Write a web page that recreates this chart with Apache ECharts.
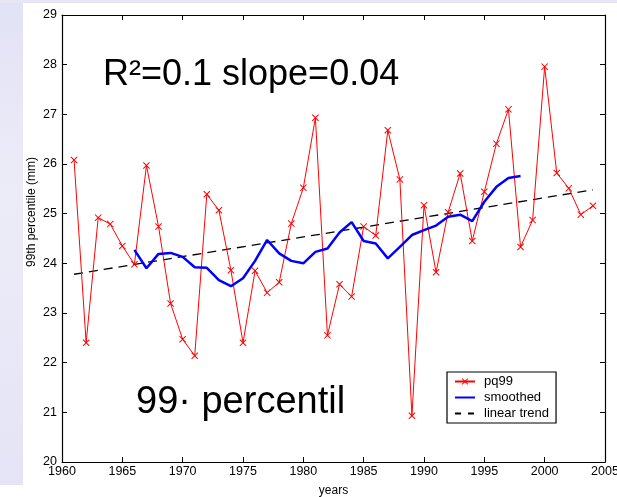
<!DOCTYPE html>
<html>
<head>
<meta charset="utf-8">
<script src="https://cdn.jsdelivr.net/npm/echarts@6/dist/echarts.min.js"></script>
<style>
html,body{margin:0;padding:0;background:#ffffff;}
#bgl{position:absolute;left:0;top:0;width:23px;height:485px;background:linear-gradient(180deg,#e2e2f6,#ececf8 40%,#e4e4f6);}
#bgt{position:absolute;left:0;top:0;width:617px;height:3px;background:#e6e6f7;}
#chart{position:absolute;left:0;top:0;width:617px;height:497px;}
</style>
</head>
<body>
<div id="bgl"></div><div id="bgt"></div>
<div id="chart"></div>
<script>
// ---- data ----
const years = [1961,1962,1963,1964,1965,1966,1967,1968,1969,1970,1971,1972,1973,1974,1975,1976,1977,1978,1979,1980,1981,1982,1983,1984,1985,1986,1987,1988,1989,1990,1991,1992,1993,1994,1995,1996,1997,1998,1999,2000,2001,2002,2003,2004];
const pq99 = [26.08,22.40,24.92,24.79,24.35,23.98,25.97,24.74,23.19,22.47,22.14,25.39,25.07,23.86,22.40,23.85,23.41,23.62,24.80,25.52,26.93,22.55,23.58,23.33,24.74,24.56,26.68,25.69,20.93,25.17,23.82,25.03,25.81,24.45,25.44,26.41,27.10,24.33,24.87,27.96,25.82,25.51,24.98,25.16];
const smoothYears = [1966,1967,1968,1969,1970,1971,1972,1973,1974,1975,1976,1977,1978,1979,1980,1981,1982,1983,1984,1985,1986,1987,1988,1989,1990,1991,1992,1993,1994,1995,1996,1997,1998];
const smoothed = [24.27,23.90,24.19,24.21,24.13,23.92,23.91,23.66,23.54,23.70,24.05,24.47,24.20,24.05,24.00,24.23,24.30,24.62,24.83,24.45,24.40,24.10,24.33,24.57,24.67,24.76,24.94,24.98,24.85,25.24,25.54,25.72,25.76];
const trendYears = [1961,2004];
const trendValues = [23.78,25.48];
const seriesNames = ['pq99','smoothed','linear trend'];
const xTitle = 'years';
const yTitle = '99th percentile (mm)';
const annot1 = 'R\u00B2=0.1 slope=0.04';
const annot2 = '99\u00B7 percentil';

const zip = (a,b) => a.map((v,i)=>[v,b[i]]);
const FONT = 'Liberation Sans, Arial, Helvetica, sans-serif';
const xSym = 'path://M0,1L1,0L5,4L9,0L10,1L6,5L10,9L9,10L5,6L1,10L0,9L4,5Z';

const chart = echarts.init(document.getElementById('chart'), null, {renderer:'canvas'});
const axisCommon = {
  axisLine:{show:true,lineStyle:{color:'#000',width:1.2}},
  axisTick:{show:true,inside:true,length:5,lineStyle:{color:'#000',width:1}},
  splitLine:{show:false}
};
chart.setOption({
  backgroundColor:'transparent',
  animation:false,
  grid:{left:62,right:12,top:15,bottom:35,containLabel:false,outerBoundsMode:'none'},
  xAxis:[
    Object.assign({type:'value',min:1960,max:2005,interval:5,position:'bottom',
      axisLabel:{color:'#000',fontFamily:FONT,fontSize:12.5,margin:3,formatter:v=>String(v)},
      name:xTitle,nameLocation:'middle',nameGap:23,
      nameTextStyle:{color:'#000',fontFamily:FONT,fontSize:12}},axisCommon),
    Object.assign({type:'value',min:1960,max:2005,interval:5,position:'top',
      axisLabel:{show:false}},axisCommon)
  ],
  yAxis:[
    Object.assign({type:'value',min:20,max:29,interval:1,position:'left',
      axisLabel:{color:'#000',fontFamily:FONT,fontSize:12.5,margin:5,formatter:v=>String(v)}},axisCommon),
    Object.assign({type:'value',min:20,max:29,interval:1,position:'right',
      axisLabel:{show:false}},axisCommon)
  ],
  legend:{
    orient:'vertical',left:447,top:372,
    data:[
      {name:seriesNames[0]},
      {name:seriesNames[1],itemStyle:{opacity:0}},
      {name:seriesNames[2],itemStyle:{opacity:0},lineStyle:{type:[6,7]}}
    ],
    backgroundColor:'#fff',borderColor:'#000',borderWidth:1.2,
    padding:[3,7,3,7],itemGap:3,itemWidth:20,itemHeight:8,
    textStyle:{color:'#000',fontFamily:FONT,fontSize:13,padding:[0,0,0,4]}
  },
  graphic:[
    {type:'text',left:103,top:57,z:10,style:{text:annot1,fill:'#000',font:'36px '+FONT}},
    {type:'text',left:136,top:384,z:10,style:{text:annot2,fill:'#000',font:'38px '+FONT}},
    {type:'text',x:32,y:212,rotation:Math.PI/2,z:10,
      style:{text:yTitle,fill:'#000',font:'12px '+FONT,textAlign:'center',textVerticalAlign:'middle'}}
  ],
  series:[
    {name:seriesNames[0],type:'line',data:zip(years,pq99),
      symbol:xSym,symbolSize:7,showAllSymbol:true,
      lineStyle:{color:'#ff0000',width:1},itemStyle:{color:'#ff0000'},z:3},
    {name:seriesNames[1],type:'line',data:zip(smoothYears,smoothed),
      symbol:'none',lineStyle:{color:'#0000ff',width:2.5},itemStyle:{color:'#0000ff'},z:4},
    {name:seriesNames[2],type:'line',data:zip(trendYears,trendValues),
      symbol:'none',lineStyle:{color:'#000',width:1.3,type:[9,6]},itemStyle:{color:'#000'},z:2}
  ]
});
</script>
</body>
</html>
